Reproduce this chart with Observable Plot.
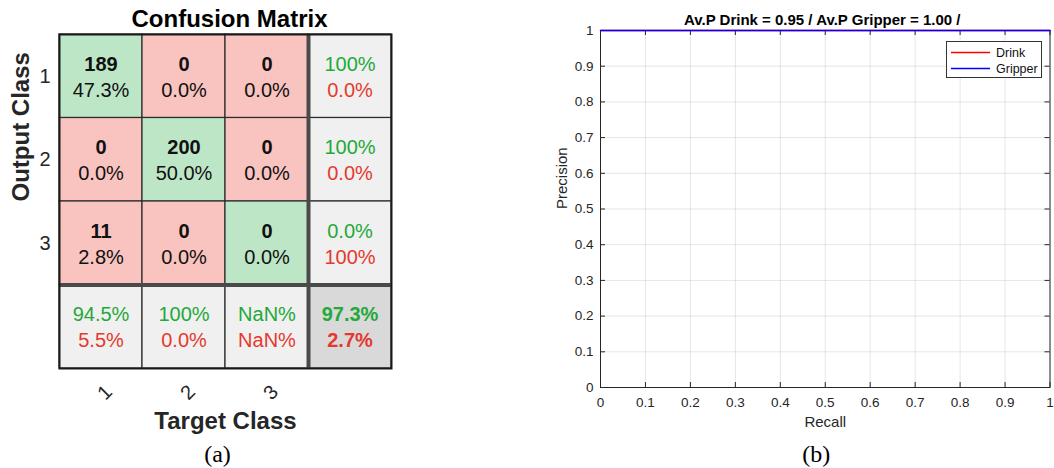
<!DOCTYPE html>
<html>
<head>
<meta charset="utf-8">
<script src="https://cdn.jsdelivr.net/npm/d3@7"></script>
<script src="https://cdn.jsdelivr.net/npm/@observablehq/plot@0.6"></script>
<style>
  html, body { margin: 0; padding: 0; background: #fff; }
  #wrap { position: relative; width: 1054px; height: 468px; overflow: hidden;
          font-family: "Liberation Sans", Arial, Helvetica, sans-serif; }
  #cm { position: absolute; left: 0; top: 0; }
  #pr { position: absolute; left: 540px; top: 0; }
  #legend { position: absolute; left: 946px; top: 41px; }
  svg { overflow: visible; }
</style>
</head>
<body>
<div id="wrap">
  <div id="cm"></div>
  <div id="pr"></div>
  <div id="legend"></div>
</div>
<script>
// ---- Confusion matrix (a) ----
const classes = ["1", "2", "3"];
const counts = [
  [189, 0, 0],
  [0, 200, 0],
  [11, 0, 0]
];
const shares = [
  ["47.3%", "0.0%", "0.0%"],
  ["0.0%", "50.0%", "0.0%"],
  ["2.8%", "0.0%", "0.0%"]
];
const rowCorrect = ["100%", "100%", "0.0%"];
const rowWrong = ["0.0%", "0.0%", "100%"];
const colCorrect = ["94.5%", "100%", "NaN%"];
const colWrong = ["5.5%", "0.0%", "NaN%"];
const overallCorrect = "97.3%";
const overallWrong = "2.7%";

// ---- Precision / recall curves (b) ----
const seriesNames = ["Drink", "Gripper"];
const seriesColors = ["#ff0000", "#0000ff"];
const drinkRecall = [0, 1];
const drinkPrecision = [1, 1];
const gripperRecall = [0, 1];
const gripperPrecision = [1, 1];
const averagePrecision = ["0.95", "1.00"];
const axisTicks = [0, 0.1, 0.2, 0.3, 0.4, 0.5, 0.6, 0.7, 0.8, 0.9, 1];

const sans = "Liberation Sans, Arial, Helvetica, sans-serif";
const serif = "Liberation Serif, Times New Roman, serif";
const green = "#22a93a";
const red = "#e43a2e";

// cells of the 3x3 matrix plus the summary row / column
const cells = [];
for (let r = 0; r < classes.length; r++)
  for (let c = 0; c < classes.length; c++)
    cells.push({row: r, col: c, kind: r === c ? "hit" : "miss",
                top: String(counts[r][c]), bottom: shares[r][c]});
const summary = [];
for (let r = 0; r < classes.length; r++)
  summary.push({row: r, col: 3, kind: "summary", good: rowCorrect[r], bad: rowWrong[r]});
for (let c = 0; c < classes.length; c++)
  summary.push({row: 3, col: c, kind: "summary", good: colCorrect[c], bad: colWrong[c]});
const total = [{row: 3, col: 3, kind: "total", good: overallCorrect, bad: overallWrong}];
const allCells = cells.concat(summary, total);

const mid = {lineAnchor: "middle"};
const cx = d => d.col + 0.5, cy = d => d.row + 0.5;

const cm = Plot.plot({
  width: 400, height: 468,
  marginLeft: 59, marginRight: 9, marginTop: 34, marginBottom: 100,
  x: {domain: [0, 4], axis: null},
  y: {domain: [0, 4], reverse: true, axis: null},
  color: {domain: ["hit", "miss", "summary", "total"],
          range: ["#bde6c7", "#f9c3bf", "#f0f0f0", "#d9d9d9"]},
  style: {fontFamily: sans, fontSize: "20px", color: "#262626", background: "transparent"},
  marks: [
    Plot.rect(allCells, {x1: "col", x2: d => d.col + 1, y1: "row", y2: d => d.row + 1,
                         fill: "kind", stroke: "#2b2b2b", strokeWidth: 1.2}),
    Plot.ruleX([3], {stroke: "#4a4a4a", strokeWidth: 4}),
    Plot.ruleY([3], {stroke: "#4a4a4a", strokeWidth: 4}),
    Plot.frame({stroke: "#1a1a1a", strokeWidth: 2}),
    // counts and shares
    Plot.text(cells, {...mid, x: cx, y: cy, text: "top", dy: -12,
                      fontSize: 20, fontWeight: "bold", fill: "#111"}),
    Plot.text(cells, {...mid, x: cx, y: cy, text: "bottom", dy: 14,
                      fontSize: 20, fill: "#111"}),
    // summary percentages
    Plot.text(summary, {...mid, x: cx, y: cy, text: "good", dy: -12,
                        fontSize: 20, fill: green}),
    Plot.text(summary, {...mid, x: cx, y: cy, text: "bad", dy: 14,
                        fontSize: 20, fill: red}),
    Plot.text(total, {...mid, x: cx, y: cy, text: "good", dy: -12,
                      fontSize: 20, fontWeight: "bold", fill: green}),
    Plot.text(total, {...mid, x: cx, y: cy, text: "bad", dy: 14,
                      fontSize: 20, fontWeight: "bold", fill: red}),
    // class labels
    Plot.text(classes, {...mid, x: 0, y: (d, i) => i + 0.5, text: d => d, textAnchor: "end",
                        dx: -9, fontSize: 20, fill: "#262626"}),
    Plot.text(classes, {...mid, x: (d, i) => i + 0.5, frameAnchor: "bottom", text: d => d,
                        dy: 24, dx: 4, rotate: -45, fontSize: 20, fill: "#262626"}),
    // titles
    Plot.text(["Confusion Matrix"], {...mid, frameAnchor: "top", dy: -15, dx: 4, fontSize: 24,
                                     fontWeight: "bold", fill: "#000"}),
    Plot.text(["Output Class"], {...mid, frameAnchor: "left", dx: -38, rotate: -90, fontSize: 24,
                                 fontWeight: "bold", fill: "#262626"}),
    Plot.text(["Target Class"], {...mid, frameAnchor: "bottom", dy: 53, fontSize: 24,
                                 fontWeight: "bold", fill: "#262626"}),
    Plot.text(["(a)"], {...mid, frameAnchor: "bottom", dy: 86, dx: -8, fontSize: 24,
                        fontFamily: serif, fill: "#000"})
  ]
});
document.getElementById("cm").append(cm);

// ---- Precision / recall plot ----
const curves = [];
drinkRecall.forEach((r, i) => curves.push({series: seriesNames[0], recall: r, precision: drinkPrecision[i]}));
gripperRecall.forEach((r, i) => curves.push({series: seriesNames[1], recall: r, precision: gripperPrecision[i]}));

const W = 514, H = 468, mL = 60, mR = 4.5, mT = 30, mB = 81;
const fw = W - mL - mR, fh = H - mT - mB;
const fmt = d => String(+d.toFixed(1));
const title = seriesNames.map((s, i) => `Av.P ${s} = ${averagePrecision[i]} /`).join(" ");

const pr = Plot.plot({
  width: W, height: H,
  marginLeft: mL, marginRight: mR, marginTop: mT, marginBottom: mB,
  x: {domain: [0, 1], axis: null},
  y: {domain: [0, 1], axis: null},
  color: {domain: seriesNames, range: seriesColors},
  style: {fontFamily: sans, fontSize: "13px", color: "#262626", background: "transparent"},
  marks: [
    Plot.gridX(axisTicks, {stroke: "#000", strokeOpacity: 0.1}),
    Plot.gridY(axisTicks, {stroke: "#000", strokeOpacity: 0.1}),
    // inward ticks on all four sides
    Plot.ruleX(axisTicks, {x: d => d, insetTop: fh - 5, stroke: "#262626"}),
    Plot.ruleX(axisTicks, {x: d => d, insetBottom: fh - 5, stroke: "#262626"}),
    Plot.ruleY(axisTicks, {y: d => d, insetRight: fw - 5, stroke: "#262626"}),
    Plot.ruleY(axisTicks, {y: d => d, insetLeft: fw - 5, stroke: "#262626"}),
    // tick labels
    Plot.text(axisTicks, {...mid, x: d => d, frameAnchor: "bottom", dy: 15, text: fmt,
                          fontSize: 13.5, fill: "#262626"}),
    Plot.text(axisTicks, {...mid, y: d => d, frameAnchor: "left", dx: -7, textAnchor: "end",
                          text: fmt, fontSize: 13.5, fill: "#262626"}),
    Plot.frame({stroke: "#262626"}),
    Plot.line(curves, {x: "recall", y: "precision", stroke: "series", z: "series",
                       strokeWidth: 1.4}),
    Plot.text([title], {...mid, frameAnchor: "top", dy: -10, dx: -3, fontSize: 15,
                        fontWeight: "bold", fill: "#000"}),
    Plot.text(["Recall"], {...mid, frameAnchor: "bottom", dy: 35, fontSize: 15, fill: "#262626"}),
    Plot.text(["Precision"], {...mid, frameAnchor: "left", dx: -38, rotate: -90, fontSize: 15,
                              fill: "#262626"}),
    Plot.text(["(b)"], {...mid, frameAnchor: "bottom", dy: 67, dx: -9, fontSize: 24,
                        fontFamily: serif, fill: "#000"})
  ]
});
document.getElementById("pr").append(pr);

// ---- legend box ----
const lg = d3.select("#legend").append("svg").attr("width", 96).attr("height", 37);
lg.append("rect").attr("x", 0.5).attr("y", 0.5).attr("width", 95).attr("height", 36)
  .attr("fill", "#fff").attr("stroke", "#333");
seriesNames.forEach((s, i) => {
  const y = 11.5 + i * 16;
  lg.append("line").attr("x1", 5).attr("x2", 44).attr("y1", y).attr("y2", y)
    .attr("stroke", seriesColors[i]).attr("stroke-width", 1.3);
  lg.append("text").attr("x", 50).attr("y", y).attr("dy", "0.35em")
    .style("font-size", "12.5px").style("font-family", sans).attr("fill", "#111").text(s);
});
</script>
</body>
</html>
